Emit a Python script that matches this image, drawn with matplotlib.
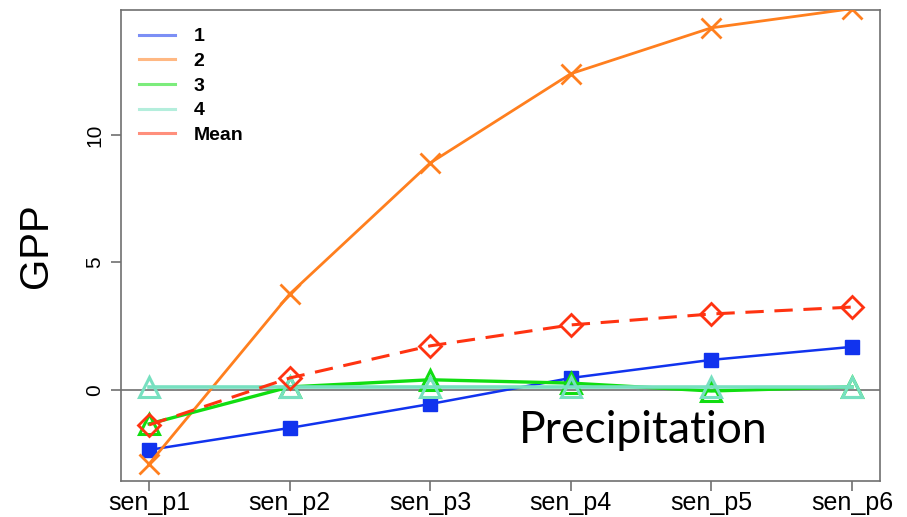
import matplotlib
matplotlib.use("Agg")
import matplotlib.pyplot as plt
from matplotlib.lines import Line2D

categories = ["sen_p1", "sen_p2", "sen_p3", "sen_p4", "sen_p5", "sen_p6"]
s1 = [-2.35, -1.49, -0.55, 0.47, 1.18, 1.69]
s2 = [-2.9, 3.76, 8.9, 12.4, 14.2, 14.95]
s3 = [-1.33, 0.12, 0.4, 0.27, -0.04, 0.12]
s4 = [0.12, 0.12, 0.12, 0.12, 0.12, 0.12]
mean = [-1.37, 0.47, 1.73, 2.55, 2.98, 3.25]
labels = ["1", "2", "3", "4", "Mean"]

plt.rcParams['font.family'] = ['Liberation Sans', 'DejaVu Sans']

fig = plt.figure(figsize=(9.07, 5.17), dpi=100)
ax = fig.add_axes([0.1334, 0.0696, 0.8368, 0.9111])
x = list(range(1, 7))

ax.axhline(0, color='#707070', lw=1.2, zorder=1)

c_blue, c_orange, c_green, c_aqua, c_red = '#1133ee', '#ff7f1e', '#11dd11', '#77e0c0', '#ff3311'
ax.plot(x, s1, color=c_blue, lw=1.8, marker='s', ms=10, mec=c_blue, mfc=c_blue, zorder=3)
ax.plot(x, s2, color=c_orange, lw=2.0, marker='x', ms=14, mew=2.0, zorder=3)
ax.plot(x, s3, color=c_green, lw=2.4, marker='^', ms=14, mfc='none', mew=2.2, zorder=3)
ax.plot(x, s4, color=c_aqua, lw=2.6, marker='^', ms=14, mfc='none', mew=2.2, zorder=3)
ax.plot(x, mean, color=c_red, lw=2.2, ls=(0, (6, 3.5)), marker='D', ms=11, mfc='none', mew=2.0, zorder=4)

ax.set_xlim(0.8, 6.2)
ax.set_ylim(-3.57, 14.9)
ax.set_xticks(x)
ax.set_xticklabels(categories, fontsize=18)
ax.set_yticks([0, 5, 10])
ax.set_yticklabels(["0", "5", "10"], fontsize=15, rotation=90, va='center')
ax.tick_params(axis='both', direction='out', length=7, color='#707070', width=1.2)
ax.tick_params(axis='x', pad=0.5)
ax.tick_params(axis='y', pad=5)
for sp in ax.spines.values():
    sp.set_color('#707070')
    sp.set_linewidth(1.2)

ax.set_ylabel("GPP", fontsize=29, labelpad=22)

handles = [Line2D([], [], color=c, lw=2.2, alpha=0.55) for c in [c_blue, c_orange, c_green, c_aqua, c_red]]
ax.legend(handles, labels, loc='upper left', frameon=False, prop={'weight': 'bold', 'size': 14},
          handlelength=1.85, handletextpad=0.95, labelspacing=0.36, bbox_to_anchor=(0.0237, 0.962),
          borderaxespad=0, borderpad=0)

ax.text(3.63, -2.08, "Precipitation", fontsize=32,
        family=['Lato', 'DejaVu Sans'], ha='left', va='baseline')

fig.savefig("out.png", dpi=100)
